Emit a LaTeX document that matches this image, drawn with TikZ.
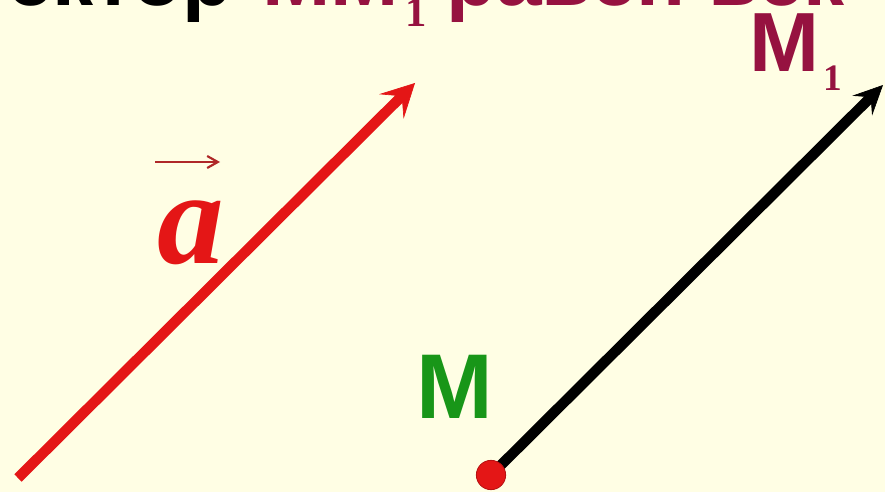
\documentclass[tikz,border=0pt]{standalone}
\usepackage{fontspec}
\setmainfont{Liberation Sans}
\newfontfamily\serifpart{Liberation Serif}
\usetikzlibrary{arrows.meta}
\definecolor{bgcream}{RGB}{255,254,228}
\definecolor{vecred}{RGB}{228,22,22}
\definecolor{maroonc}{RGB}{150,18,64}
\definecolor{mgreen}{RGB}{24,150,24}
\definecolor{darkred}{RGB}{175,40,40}
\begin{document}
\begin{tikzpicture}[x=0.75pt,y=-0.75pt,
  lbl/.style={inner sep=0pt, outer sep=0pt, anchor=base west},
  titlefont/.style={font=\bfseries\fontsize{61.5}{61.5}\selectfont},
  subfont/.style={font=\serifpart\bfseries\fontsize{#1}{#1}\selectfont},
  vecline/.style={line width=7.8pt, line cap=butt},
]
\useasboundingbox (0,0) rectangle (885,492);
\fill[bgcream] (0,0) rectangle (885,492);
\begin{scope}
\clip (0,0) rectangle (885,492);
% title (cut at the top)
\node[lbl, anchor=base east, titlefont] (t1) at (233,6) {Вектор};
\node[lbl, text=maroonc, titlefont] (t2) at (262,6) {MM};
\node[lbl, text=maroonc, subfont=32] (t3) at (405,27) {1};
\node[lbl, text=maroonc, titlefont] (t4) at (446,6) {равен};
\node[lbl, text=maroonc, titlefont] (t5) at ([xshift=17pt]t4.base east) {век};

% vector a
\coordinate (A0) at (18,478);
\coordinate (A1) at (415,83);
\draw[vecline, vecred, -{Stealth[length=25pt,width=26pt,inset=11pt,line width=0.5pt]}] (A0) -- (A1);
\node[text=vecred, inner sep=0pt, font=\serifpart\bfseries\itshape\fontsize{100}{100}\selectfont] (alab) at (191,233) {a};
\draw[darkred, line width=2.2pt, -{Straight Barb[length=8pt,width=9pt,line width=1.6pt]}]
  ([shift={(-36,-71)}]alab.center) -- ([shift={(29,-71)}]alab.center);

% vector M M1
\coordinate (Mpt) at (491,475);
\coordinate (M1) at (883,85);
\draw[vecline, black, -{Stealth[length=22pt,width=21pt,inset=9pt,line width=0.5pt]}] (Mpt) -- (M1);
\node[circle, fill=vecred, draw=vecred!80!black, line width=0.6pt, minimum size=22pt, inner sep=0pt] (M) at (Mpt) {};

\node[lbl, text=mgreen, font=\bfseries\fontsize{69}{69}\selectfont] (Mlab) at (416,418) {M};
\node[lbl, text=maroonc, font=\bfseries\fontsize{63}{63}\selectfont] (M1lab) at (749,72) {M};
\node[lbl, text=maroonc, subfont=28] (M1sub) at (823,90) {1};
\end{scope}
\end{tikzpicture}
\end{document}
